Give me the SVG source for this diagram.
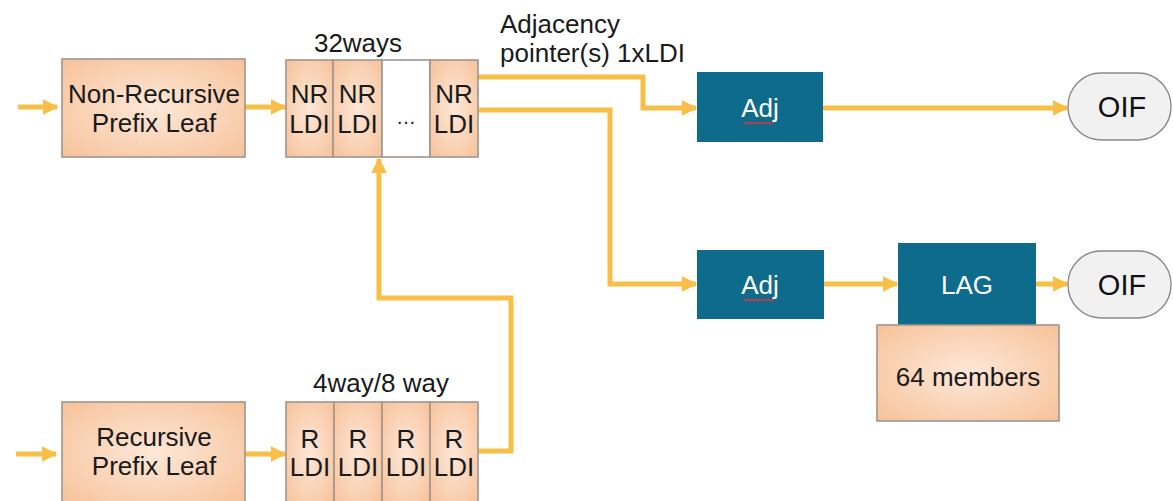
<svg xmlns="http://www.w3.org/2000/svg" width="1173" height="501" viewBox="0 0 1173 501">
  <style>
    text { font-family: "Liberation Sans", Arial, sans-serif; font-size: 26px; fill: #1a1a1a; text-anchor: middle; }
    .lbl { text-anchor: start; }
    .wt { fill: #ffffff; }
    .oif { font-size: 29px; fill: #111111; }
    .peach { fill: url(#peachGrad); stroke: #9e958f; stroke-width: 1.6; }
    .blank { fill: #ffffff; stroke: #9e958f; stroke-width: 1.6; }
    .teal { fill: #0f6b8c; }
    .pill { fill: #f1f1f1; stroke: #8a8a8a; stroke-width: 1.4; }
    .wire { fill: none; stroke: #f7bf45; stroke-width: 5; stroke-linejoin: miter; }
    .squig { fill: none; stroke: #d9363e; stroke-width: 1.2; }
  </style>
  <defs>
    <radialGradient id="peachGrad" cx="50%" cy="50%" r="70%">
      <stop offset="0" stop-color="#fde8d8"/>
      <stop offset="1" stop-color="#f7c29a"/>
    </radialGradient>
    <marker id="arrow" viewBox="0 0 10 10" refX="9" refY="5" markerWidth="3.2" markerHeight="3.2" markerUnits="strokeWidth" orient="auto">
      <path d="M0,0 L10,5 L0,10 Z" fill="#f7bf45"/>
    </marker>
  </defs>

  <!-- connectors -->
  <g id="connectors">
    <path class="wire" d="M18,107 H57" marker-end="url(#arrow)"/>
    <path class="wire" d="M245,107 H285" marker-end="url(#arrow)"/>
    <path class="wire" d="M478,77 H643 V108 H696" marker-end="url(#arrow)"/>
    <path class="wire" d="M478,110 H610 V284 H696" marker-end="url(#arrow)"/>
    <path class="wire" d="M823,108 H1067" marker-end="url(#arrow)"/>
    <path class="wire" d="M823,284 H897" marker-end="url(#arrow)"/>
    <path class="wire" d="M1035,284 H1067" marker-end="url(#arrow)"/>
    <path class="wire" d="M16,454 H56" marker-end="url(#arrow)"/>
    <path class="wire" d="M245,454 H285" marker-end="url(#arrow)"/>
    <path class="wire" d="M478,451 H511 V298 H379 V159" marker-end="url(#arrow)"/>
  </g>

  <!-- label on the adjacency pointers -->
  <g id="adj-pointer-label">
    <text class="lbl" x="500" y="33">Adjacency</text>
    <text class="lbl" x="500" y="62">pointer(s) 1xLDI</text>
  </g>

  <g id="nr-prefix-leaf">
    <rect class="peach" x="62" y="59" width="183" height="98"/>
    <text x="154" y="103">Non-Recursive</text>
    <text x="154" y="132">Prefix Leaf</text>
  </g>

  <g id="nr-ldi-array">
    <text x="358" y="52">32ways</text>
    <rect class="peach" x="286" y="60" width="47" height="97"/>
    <rect class="peach" x="333" y="60" width="49" height="97"/>
    <rect class="blank" x="382" y="60" width="48" height="97"/>
    <rect class="peach" x="430" y="60" width="48" height="97"/>
    <text x="309.5" y="103">NR</text>
    <text x="309.5" y="133">LDI</text>
    <text x="357.5" y="103">NR</text>
    <text x="357.5" y="133">LDI</text>
    <text x="406" y="124" style="font-size:20px">…</text>
    <text x="454" y="103">NR</text>
    <text x="454" y="133">LDI</text>
  </g>

  <g id="adj-1">
    <rect class="teal" x="697" y="72" width="126" height="70"/>
    <text class="wt" x="760" y="117">Adj</text>
    <path class="squig" d="M744,122 l2,2 l2,-2 l2,2 l2,-2 l2,2 l2,-2 l2,2 l2,-2 l2,2 l2,-2 l2,2 l2,-2 l2,2 l2,-2 l2,2"/>
  </g>

  <g id="oif-1">
    <rect class="pill" x="1068" y="73" width="103" height="67" rx="33" ry="33"/>
    <text class="oif" x="1122" y="117">OIF</text>
  </g>

  <g id="adj-2">
    <rect class="teal" x="697" y="250" width="127" height="69"/>
    <text class="wt" x="760" y="294">Adj</text>
    <path class="squig" d="M744,299 l2,2 l2,-2 l2,2 l2,-2 l2,2 l2,-2 l2,2 l2,-2 l2,2 l2,-2 l2,2 l2,-2 l2,2 l2,-2 l2,2"/>
  </g>

  <g id="lag">
    <rect class="teal" x="898" y="243" width="138" height="82"/>
    <text class="wt" x="967" y="294">LAG</text>
  </g>

  <g id="lag-members">
    <rect class="peach" x="877" y="325" width="182" height="96"/>
    <text x="968" y="386">64 members</text>
  </g>

  <g id="oif-2">
    <rect class="pill" x="1068" y="251" width="103" height="67" rx="33" ry="33"/>
    <text class="oif" x="1122" y="295">OIF</text>
  </g>

  <g id="r-prefix-leaf">
    <rect class="peach" x="62" y="402" width="183" height="102"/>
    <text x="154" y="446">Recursive</text>
    <text x="154" y="475">Prefix Leaf</text>
  </g>

  <g id="r-ldi-array">
    <text x="381" y="392">4way/8 way</text>
    <rect class="peach" x="286" y="402" width="48" height="102"/>
    <rect class="peach" x="334" y="402" width="48" height="102"/>
    <rect class="peach" x="382" y="402" width="48" height="102"/>
    <rect class="peach" x="430" y="402" width="48" height="102"/>
    <text x="310" y="448">R</text>
    <text x="310" y="476">LDI</text>
    <text x="358" y="448">R</text>
    <text x="358" y="476">LDI</text>
    <text x="406" y="448">R</text>
    <text x="406" y="476">LDI</text>
    <text x="454" y="448">R</text>
    <text x="454" y="476">LDI</text>
  </g>
</svg>
